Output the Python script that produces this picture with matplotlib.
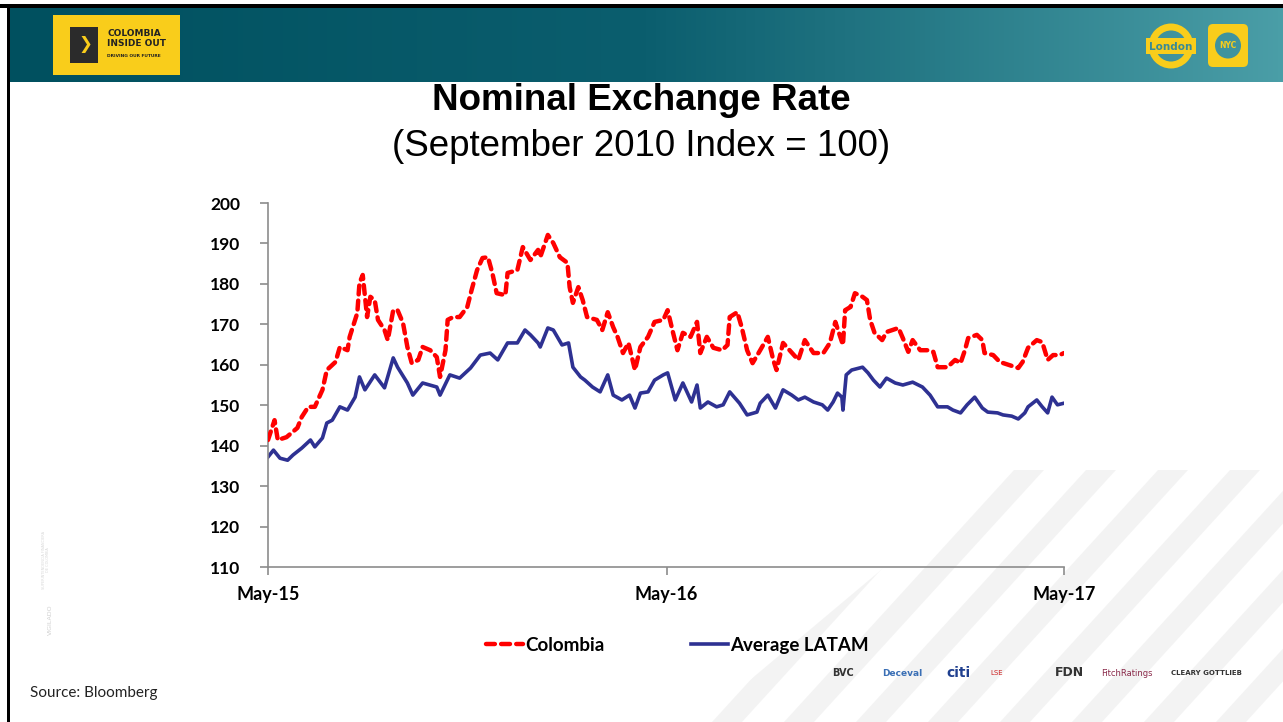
import numpy as np
import pandas as pd
import matplotlib
matplotlib.use("Agg")
import matplotlib.pyplot as plt
from matplotlib.patches import Rectangle, FancyBboxPatch, Circle, Polygon
from matplotlib.colors import LinearSegmentedColormap

# --- Datos ---
start = pd.Timestamp("2015-05-01")

# dias desde 1-May-15 y valor del indice
col_days = [0, 6, 9, 17, 27, 31, 37, 43, 50, 54, 62, 66, 73, 75, 82, 84, 87, 91, 94, 98,
            101, 107, 110, 115, 119, 124, 128, 132, 138, 142, 149, 155, 158, 163, 165, 170,
            176, 183, 187, 192, 197, 202, 206, 210, 218, 220, 229, 234, 241, 248, 250, 257,
            262, 268, 275, 277, 280, 285, 289, 293, 302, 307, 312, 317, 321, 326, 331, 337,
            342, 349, 355, 363, 367, 372, 376, 381, 388, 394, 397, 403, 409, 417, 422, 424,
            431, 435, 440, 445, 452, 459, 464, 467, 473, 479, 487, 493, 501, 510, 516, 521,
            528, 530, 535, 539, 546, 550, 553, 557, 564, 568, 579, 583, 588, 592, 599, 606,
            611, 615, 624, 631, 636, 640, 643, 651, 656, 658, 666, 672, 681, 689, 693, 698,
            706, 711, 716, 721, 727, 731]
colombia = [141.4, 146.3, 141.4, 142.1, 144.4, 147.1, 149.6, 149.6, 153.8, 158.7, 160.7, 164.4,
            163.6, 166.9, 172.8, 180.2, 182.2, 171.8, 176.8, 176.0, 171.1, 168.6, 166.1, 173.5,
            173.5, 170.3, 164.4, 160.4, 161.2, 164.4, 163.6, 161.9, 157.0, 163.6, 171.1, 171.8,
            171.8, 174.3, 178.5, 183.4, 186.4, 186.6, 182.7, 177.7, 177.2, 182.7, 183.4, 189.1,
            185.9, 188.4, 186.6, 192.1, 190.1, 186.6, 185.2, 179.2, 175.3, 179.2, 176.0, 171.8,
            171.1, 168.6, 173.0, 169.3, 166.9, 162.9, 165.4, 158.7, 164.4, 166.9, 170.6, 171.1,
            173.5, 167.9, 163.6, 167.9, 166.9, 170.6, 162.9, 166.9, 164.2, 163.6, 164.9, 171.8,
            173.0, 169.3, 163.6, 160.4, 163.6, 166.9, 161.2, 158.7, 165.4, 163.6, 161.2, 166.1,
            162.9, 162.9, 165.4, 170.6, 164.9, 173.5, 174.3, 177.7, 176.8, 176.0, 171.1, 167.9,
            166.1, 168.1, 169.1, 166.6, 163.2, 166.1, 163.6, 163.6, 163.2, 159.4, 159.4, 161.2,
            160.4, 163.6, 166.6, 167.4, 166.1, 162.9, 162.4, 160.7, 159.9, 159.2, 160.7, 164.2,
            166.1, 165.6, 161.2, 162.4, 162.4, 162.9]

lat_days = [0, 5, 11, 18, 23, 31, 39, 43, 50, 54, 59, 66, 73, 80, 84, 89, 98, 107, 115, 119,
            128, 133, 142, 155, 158, 167, 176, 186, 195, 204, 211, 220, 229, 236, 241, 248,
            250, 257, 262, 270, 276, 280, 287, 291, 298, 305, 312, 317, 325, 332, 337, 342,
            349, 355, 363, 367, 374, 381, 389, 394, 397, 404, 412, 418, 424, 433, 440, 449,
            452, 459, 466, 473, 481, 487, 493, 501, 509, 514, 519, 523, 527, 528, 531, 536,
            546, 551, 556, 562, 568, 576, 583, 592, 601, 608, 615, 624, 629, 636, 642, 649,
            656, 661, 670, 675, 683, 689, 695, 698, 706, 711, 716, 720, 725, 731]
latam = [137.2, 138.9, 136.9, 136.4, 137.7, 139.4, 141.4, 139.7, 141.9, 145.6, 146.3, 149.6,
         148.8, 152.0, 157.0, 153.8, 157.5, 154.3, 161.7, 159.4, 155.5, 152.5, 155.5, 154.5,
         152.5, 157.5, 156.7, 159.2, 162.4, 162.9, 161.2, 165.4, 165.4, 168.6, 167.4, 165.4,
         164.4, 169.1, 168.6, 164.9, 165.4, 159.4, 157.0, 156.2, 154.5, 153.3, 157.5, 152.5,
         151.3, 152.5, 149.3, 153.0, 153.3, 156.2, 157.5, 158.0, 151.3, 155.5, 150.8, 155.0,
         149.3, 150.8, 149.6, 150.1, 153.3, 150.5, 147.6, 148.3, 150.5, 152.5, 149.3, 153.8,
         152.5, 151.3, 152.0, 150.8, 150.1, 148.8, 150.8, 153.0, 152.0, 148.8, 157.5, 158.7,
         159.4, 158.0, 156.2, 154.5, 156.7, 155.5, 155.0, 155.7, 154.5, 152.5, 149.6, 149.6,
         148.8, 148.1, 150.1, 152.0, 149.3, 148.3, 148.1, 147.6, 147.3, 146.6, 148.1, 149.6,
         151.3, 149.6, 148.1, 152.0, 150.1, 150.5]

tick_dates = ["2015-05-01", "2016-05-01", "2017-05-01"]
tick_labels = ["May-15", "May-16", "May-17"]
y_ticks = list(range(110, 201, 10))

W, H = 1283, 722
fig = plt.figure(figsize=(W / 100, H / 100), dpi=100)

# --- Fondo / decoracion de la diapositiva (coordenadas en pixeles) ---
bg = fig.add_axes([0, 0, 1, 1])
bg.set_xlim(0, W)
bg.set_ylim(H, 0)
bg.axis("off")

# rayas diagonales grises abajo a la derecha, recortadas en forma de cuña
mask = Polygon([(700, 722), (W, 722), (W, 470), (1000, 470)], closed=True,
               facecolor="none", edgecolor="none")
bg.add_patch(mask)
for k in range(-4, 14):
    x0 = 640 + k * 72
    pts = [(x0, 722), (x0 + 30, 722), (x0 + 30 + 230, 470), (x0 + 230, 470)]
    st = Polygon(pts, closed=True, facecolor="#e6e6e6", edgecolor="none", alpha=0.45, zorder=0)
    bg.add_patch(st)
    st.set_clip_path(mask)

# barra superior con degradado
grad = np.linspace(0, 1, 256).reshape(1, -1)
cmap = LinearSegmentedColormap.from_list("hdr", ["#00505f", "#0b5e6e", "#4a9ea7"])
bg.imshow(grad, extent=[9, W, 82, 8], aspect="auto", cmap=cmap, zorder=1)
bg.add_patch(Rectangle((0, 4), W, 4, facecolor="black", edgecolor="none", zorder=2))
bg.add_patch(Rectangle((7, 4), 3, H, facecolor="black", edgecolor="none", zorder=2))

# logo Colombia Inside Out
bg.add_patch(Rectangle((53, 15), 127, 60, facecolor="#f9cd1b", edgecolor="none", zorder=3))
bg.add_patch(Rectangle((70, 27), 28, 36, facecolor="#2b2b2b", edgecolor="none", zorder=4))
bg.text(78, 44, "❯", color="#f9cd1b", fontsize=12, fontweight="bold", ha="left", va="center", zorder=5)
bg.text(107, 33, "COLOMBIA", fontsize=6.5, fontweight="bold", color="#222222", va="center", zorder=5)
bg.text(107, 43, "INSIDE OUT", fontsize=6.5, fontweight="bold", color="#222222", va="center", zorder=5)
bg.text(107, 56, "DRIVING OUR FUTURE", fontsize=3.2, fontweight="bold", color="#222222", va="center", zorder=5)

# logos London / NYC
bg.add_patch(Circle((1171, 46), 19, facecolor="none", edgecolor="#f9cd1b", linewidth=5, zorder=3))
bg.add_patch(Rectangle((1146, 38), 50, 16, facecolor="#f9cd1b", edgecolor="none", zorder=4))
bg.text(1171, 46.5, "London", fontsize=7.5, color="#3a8a95", ha="center", va="center", zorder=5,
        fontweight="bold")
bg.add_patch(FancyBboxPatch((1209, 25), 38, 41, boxstyle="round,pad=1,rounding_size=5",
                            facecolor="#f9cd1b", edgecolor="none", zorder=3))
bg.add_patch(Circle((1228, 45.5), 13, facecolor="#3f939d", edgecolor="none", zorder=4))
bg.text(1228, 46, "NYC", fontsize=5.5, color="#f9cd1b", ha="center", va="center", zorder=5,
        fontweight="bold")

# texto vertical "VIGILADO"
bg.text(50, 620, "VIGILADO", rotation=90, fontsize=4.5, color="#cfcfcf", ha="center", va="center")
bg.text(46, 560, "SUPERINTENDENCIA FINANCIERA\nDE COLOMBIA", rotation=90, fontsize=2.5,
        color="#d8d8d8", ha="center", va="center")

# patrocinadores
sponsors = [(832, "BVC", "#333333", 7, "bold"), (882, "Deceval", "#3a6fb5", 6.5, "bold"),
            (946, "citi", "#1f3f8f", 10, "bold"), (990, "LSE", "#cc2222", 5, "normal"),
            (1055, "FDN", "#333333", 9, "bold"), (1101, "FitchRatings", "#8a2a4a", 6, "normal"),
            (1171, "CLEARY GOTTLIEB", "#333333", 5, "bold")]
for sx, name, c, fs, fw in sponsors:
    bg.text(sx, 673, name, fontsize=fs, color=c, fontweight=fw, va="center", ha="left")

# titulos
bg.text(641, 101, "Nominal Exchange Rate", fontsize=26.5, fontweight="bold", family="Liberation Sans",
        ha="center", va="center", color="black", zorder=5)
bg.text(641, 146, "(September 2010 Index = 100)", fontsize=26.5, family="Liberation Sans",
        ha="center", va="center", color="black", zorder=5)
bg.text(30, 693, "Source: Bloomberg", fontsize=11, family="Lato", color="#222222", va="center")

# --- Grafico principal ---
ax = fig.add_axes([268 / W, 1 - 567 / H, (1064 - 268) / W, (567 - 203) / H])
ax.patch.set_alpha(0)

xc = start + pd.to_timedelta(col_days, unit="D")
xl = start + pd.to_timedelta(lat_days, unit="D")
ax.plot(xc, colombia, color="#ff0000", linewidth=3.2, linestyle=(0, (2, 1.4)),
        dash_capstyle="round", solid_capstyle="round", label="Colombia", zorder=3)
ax.plot(xl, latam, color="#2e3192", linewidth=2.6, label="Average LATAM", zorder=2)

ax.set_xlim(pd.Timestamp(tick_dates[0]), pd.Timestamp(tick_dates[-1]))
ax.set_ylim(110, 200)
ax.set_yticks(y_ticks)
ax.set_yticklabels([str(v) for v in y_ticks], fontsize=12.5, fontweight="bold", family="Lato")
ax.set_xticks(pd.to_datetime(tick_dates))
ax.set_xticklabels(tick_labels, fontsize=13, fontweight="bold", family="Lato")

for s in ["top", "right"]:
    ax.spines[s].set_visible(False)
for s in ["left", "bottom"]:
    ax.spines[s].set_color("#8c8c8c")
    ax.spines[s].set_linewidth(1.2)
ax.tick_params(axis="y", length=6, width=1.2, color="#8c8c8c", pad=14)
ax.tick_params(axis="x", length=6, width=1.2, color="#8c8c8c", pad=8)

leg = ax.legend(loc="upper center", bbox_to_anchor=(0.514, -0.145), ncol=2, frameon=False,
                prop={"family": "Lato", "weight": "bold", "size": 13.5}, handlelength=2.0,
                handletextpad=0.1, columnspacing=4.6)

fig.savefig("out.png", dpi=100)
